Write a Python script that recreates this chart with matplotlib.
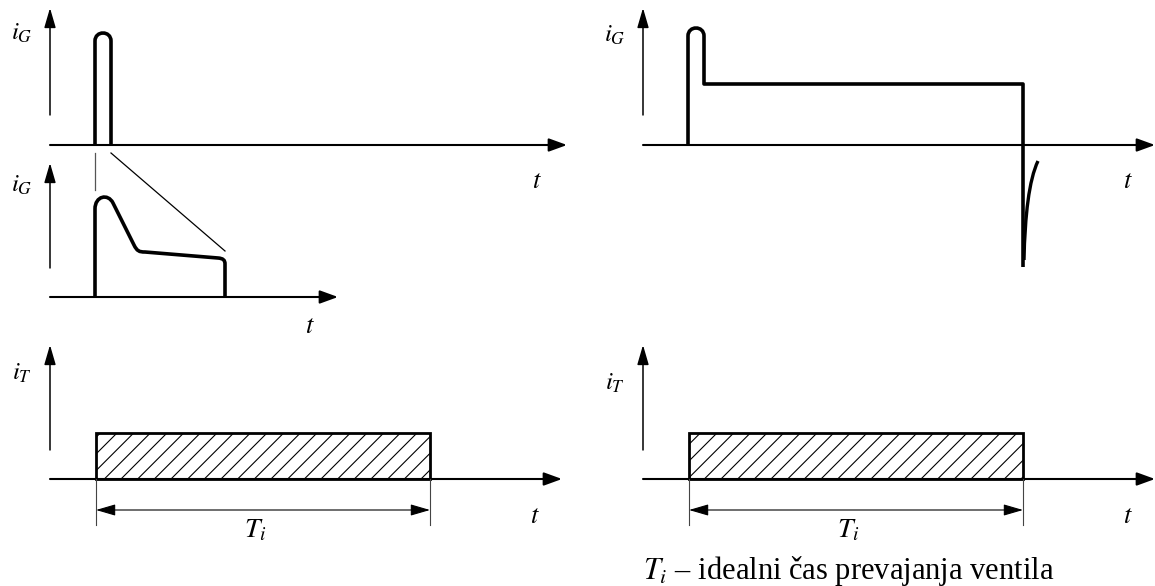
import matplotlib.pyplot as plt
from matplotlib.path import Path
from matplotlib.patches import PathPatch, Rectangle, FancyArrowPatch
from matplotlib.transforms import Affine2D

plt.rcParams['font.family'] = ['Liberation Serif', 'DejaVu Serif']
plt.rcParams['mathtext.fontset'] = 'stix'
plt.rcParams['hatch.linewidth'] = 0.8

# --- waveform data (t, i) in panel units, origin on the time axis ---
# short gate pulse: rise, rounded top, fall
pulse_t = [45, 61]
pulse_top = 104
pulse_r = 8

# detail of the gate pulse (vertices of the Bezier path)
detail_pts = [(45, 0), (45, 88),
              (45, 101), (58, 104), (63, 94),
              (84, 52),
              (87, 46), (89, 45), (95, 45),
              (168, 39),
              (173, 38.6), (175, 37), (175, 33),
              (175, 0)]
detail_codes = [Path.MOVETO, Path.LINETO,
                Path.CURVE4, Path.CURVE4, Path.CURVE4,
                Path.LINETO,
                Path.CURVE4, Path.CURVE4, Path.CURVE4,
                Path.LINETO,
                Path.CURVE4, Path.CURVE4, Path.CURVE4,
                Path.LINETO]

# long gate pulse: spike, plateau, negative turn-off spike and recovery
long_t = [45, 61, 380]
long_top = 109
long_level = 61
long_neg = -122
recovery_pts = [(381, -115), (382, -70), (386, -35), (395, -16)]

# thyristor current
it_start, it_end = 46, 380
it_level = 46

W, H = 1155, 586
fig = plt.figure(figsize=(W / 100, H / 100), dpi=100)
ax = fig.add_axes([0, 0, 1, 1])
ax.set_xlim(0, W)
ax.set_ylim(H, 0)
ax.axis('off')


def panel(ox, oy):
    # panel origin given in figure pixels, current axis pointing up
    return Affine2D().scale(1, -1).translate(ox, oy) + ax.transData


def arrow(tr, a, b, style, lw, ms):
    ax.add_patch(FancyArrowPatch(a, b, transform=tr, arrowstyle=style,
                                 mutation_scale=ms, lw=lw, color='k',
                                 shrinkA=0, shrinkB=0))


def axes_arrows(tr, y0, y1, x1):
    arrow(tr, (0, y0), (0, y1), '-|>,head_length=1.2,head_width=0.35', 1.1, 10)
    arrow(tr, (0, 0), (x1, 0), '-|>,head_length=1.1,head_width=0.4', 1.5, 10)


def draw_path(tr, pts, codes, lw=2.6):
    ax.add_patch(PathPatch(Path(pts, codes), transform=tr, fill=False,
                           lw=lw, ec='k', capstyle='butt', joinstyle='round'))


def rounded_pulse(t0, t1, top, r):
    k = r * 4 / 3
    pts = [(t0, 0), (t0, top), (t0, top + k), (t1, top + k), (t1, top), (t1, 0)]
    codes = [Path.MOVETO, Path.LINETO, Path.CURVE4, Path.CURVE4, Path.CURVE4, Path.LINETO]
    return pts, codes


def label(tr, x, y, s, size, ha='center'):
    ax.text(x, y, s, transform=tr, fontsize=size, ha=ha, va='center')


def thyristor_panel(tr, ylab):
    axes_arrows(tr, 29, 134, 512)
    ax.add_patch(Rectangle((it_start, 0), it_end - it_start, it_level,
                           transform=tr, fill=False, hatch='//', lw=2.0, ec='k'))
    for t in (it_start, it_end):
        ax.plot([t, t], [0, -46], transform=tr, color='#444444', lw=0.8)
    arrow(tr, (it_start, -31), (it_end, -31),
          '<|-|>,head_length=1.2,head_width=0.35', 0.8, 10)
    label(tr, (it_start + it_end) / 2 - 8, -52, '$T_i$', 20)
    label(tr, 485, -38, '$t$', 19)
    label(tr, -28, ylab, '$i_T$', 18)


# top left: short gate pulse
trA = panel(50, 145)
axes_arrows(trA, 30, 137, 517)
draw_path(trA, *rounded_pulse(pulse_t[0], pulse_t[1], pulse_top, pulse_r))
ax.plot([pulse_t[0], pulse_t[0]], [-8, -45], transform=trA, color='#555555', lw=0.9)
ax.plot([pulse_t[1], 175], [-8, -106], transform=trA, color='k', lw=0.9)
label(trA, 487, -37, '$t$', 19)
label(trA, -28, 112, '$i_G$', 18)

# detail of the short pulse
trB = panel(50, 297)
axes_arrows(trB, 29, 134, 288)
draw_path(trB, detail_pts, detail_codes)
label(trB, 260, -30, '$t$', 19)
label(trB, -28, 112, '$i_G$', 18)

# bottom left: thyristor current
thyristor_panel(panel(50, 479), 106)

# top right: long gate pulse
trD = panel(643, 145)
axes_arrows(trD, 30, 137, 512)
k = pulse_r * 4 / 3
long_pts = [(long_t[0], 0), (long_t[0], long_top),
            (long_t[0], long_top + k), (long_t[1], long_top + k), (long_t[1], long_top),
            (long_t[1], long_level), (long_t[2], long_level), (long_t[2], long_neg)]
long_codes = [Path.MOVETO, Path.LINETO, Path.CURVE4, Path.CURVE4, Path.CURVE4,
              Path.LINETO, Path.LINETO, Path.LINETO]
draw_path(trD, long_pts, long_codes)
draw_path(trD, recovery_pts, [Path.MOVETO, Path.CURVE4, Path.CURVE4, Path.CURVE4], lw=2.4)
label(trD, 485, -37, '$t$', 19)
label(trD, -28, 110, '$i_G$', 18)

# bottom right: thyristor current
thyristor_panel(panel(643, 479), 96)

ax.text(643, 571, '$T_i$ – idealni čas prevajanja ventila', fontsize=22,
        ha='left', va='center')

fig.savefig('out.png', dpi=100)
